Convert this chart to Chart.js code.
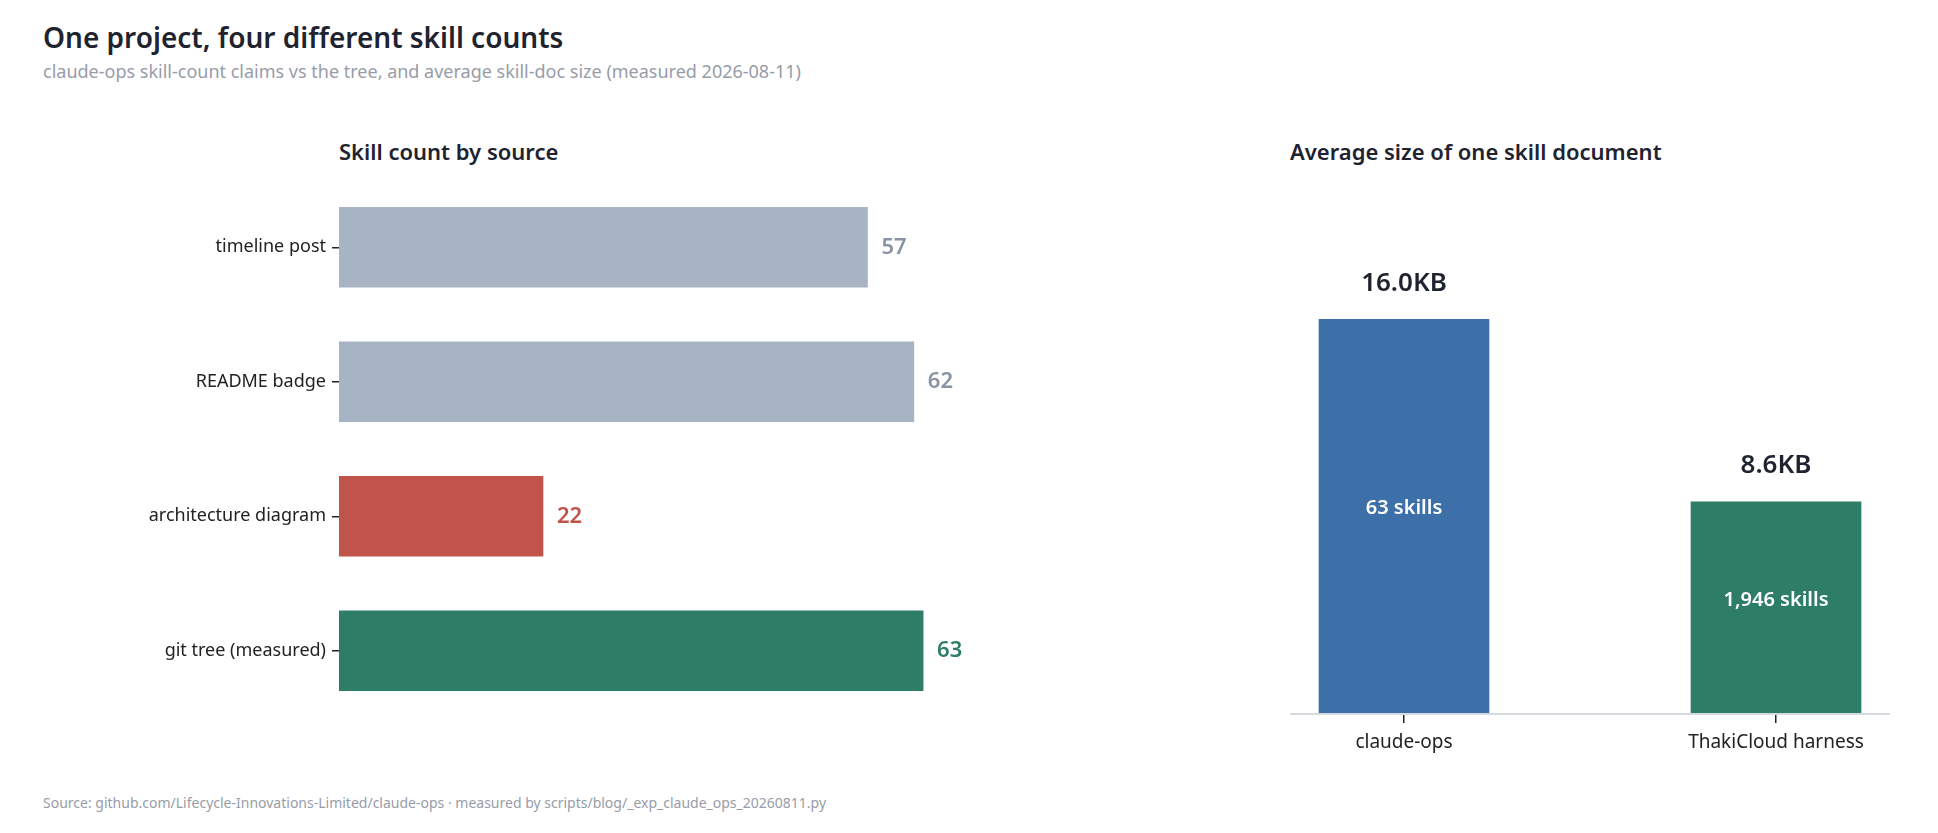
<!DOCTYPE html>
<html>
<head>
<meta charset="utf-8">
<script src="https://cdn.jsdelivr.net/npm/chart.js@4"></script>
<style>
  body { margin:0; width:1938px; height:833px; background:#fff; position:relative; overflow:hidden;
         font-family:"Noto Sans",sans-serif; }
  .t { position:absolute; white-space:nowrap; }
  canvas { position:absolute; }
</style>
</head>
<body>
<div class="t" style="left:43px;top:18px;font-size:28px;font-weight:600;color:#1f2330">One project, four different skill counts</div>
<div class="t" style="left:43px;top:59px;font-size:18px;color:#979ca8">claude-ops skill-count claims vs the tree, and average skill-doc size (measured 2026-08-11)</div>
<div class="t" style="left:339px;top:136px;font-size:22px;font-weight:600;color:#1f2330">Skill count by source</div>
<div class="t" style="left:1290px;top:136px;font-size:22px;font-weight:600;color:#1f2330">Average size of one skill document</div>
<div class="t" style="left:43px;top:793px;font-size:14px;color:#979ca8">Source: github.com/Lifecycle-Innovations-Limited/claude-ops · measured by scripts/blog/_exp_claude_ops_20260811.py</div>
<div style="position:absolute;left:0;top:0;width:1000px;height:833px"><canvas id="left"></canvas></div>
<div style="position:absolute;left:1200px;top:0;width:780px;height:833px"><canvas id="right"></canvas></div>
<script>
// ================= DATA =================
const sources = ["timeline post", "README badge", "architecture diagram", "git tree (measured)"];
const skillCounts = [57, 62, 22, 63];
const sourceColors = ["#a8b3c4", "#a8b3c4", "#c0544b", "#2e7d67"];
const labelColors = ["#8a93a3", "#8a93a3", "#c0544b", "#2e7d67"];

const projects = ["claude-ops", "ThakiCloud harness"];
const avgDocKB = [16.0, 8.6];
const projectSkills = ["63 skills", "1,946 skills"];
const projectColors = ["#3d6fa8", "#2e7d67"];

const FONT = '"Noto Sans",sans-serif';
Chart.defaults.font.family = FONT;
Chart.defaults.animation = false;

// ================= LEFT: HORIZONTAL BARS =================
const leftLabels = {
    id: "leftLabels",
    afterDatasetsDraw(chart) {
        const ctx = chart.ctx;
        chart.getDatasetMeta(0).data.forEach((bar, i) => {
            ctx.save();
            ctx.font = "600 22px " + FONT;
            ctx.fillStyle = labelColors[i];
            ctx.textBaseline = "middle";
            ctx.fillText(skillCounts[i], bar.x + 14, bar.y);
            ctx.restore();
        });
    }
};

new Chart(document.getElementById("left"), {
    type: "bar",
    data: {
        labels: sources,
        datasets: [{ data: skillCounts, backgroundColor: sourceColors, barThickness: 80 }]
    },
    options: {
        indexAxis: "y",
        responsive: true,
        maintainAspectRatio: false,
        layout: { padding: { top: 180, bottom: 115, right: 12 } },
        plugins: { legend: { display: false }, tooltip: { enabled: false } },
        scales: {
            x: { display: false, min: 0, max: 70 },
            y: {
                afterFit(s) { s.width = 339; },
                border: { display: false },
                grid: { offset: false, drawOnChartArea: false, drawTicks: true, tickLength: 7, color: "#222", lineWidth: 1.5 },
                ticks: { color: "#222", font: { size: 18 }, padding: 6 }
            }
        }
    },
    plugins: [leftLabels]
});

// ================= RIGHT: VERTICAL BARS =================
const rightLabels = {
    id: "rightLabels",
    afterDatasetsDraw(chart) {
        const ctx = chart.ctx;
        const xs = chart.scales.x;
        const step = xs.getPixelForValue(1) - xs.getPixelForValue(0);
        // baseline spanning the two bars with a little margin
        ctx.save();
        ctx.strokeStyle = "#d6d9de";
        ctx.lineWidth = 2;
        ctx.beginPath();
        ctx.moveTo(xs.getPixelForValue(0) - 0.306 * step, chart.chartArea.bottom);
        ctx.lineTo(xs.getPixelForValue(1) + 0.306 * step, chart.chartArea.bottom);
        ctx.stroke();
        ctx.restore();
        chart.getDatasetMeta(0).data.forEach((bar, i) => {
            ctx.save();
            ctx.textAlign = "center";
            ctx.textBaseline = "middle";
            ctx.font = "600 26px " + FONT;
            ctx.fillStyle = "#1f2330";
            ctx.fillText(avgDocKB[i].toFixed(1) + "KB", bar.x, bar.y - 36);
            ctx.font = "600 20px " + FONT;
            ctx.fillStyle = "#fff";
            ctx.fillText(projectSkills[i], bar.x, (bar.y + bar.base) / 2 - 8);
            ctx.restore();
        });
    }
};

new Chart(document.getElementById("right"), {
    type: "bar",
    data: {
        labels: projects,
        datasets: [{ data: avgDocKB, backgroundColor: projectColors, barThickness: 170 }]
    },
    options: {
        responsive: true,
        maintainAspectRatio: false,
        layout: { padding: { top: 270, bottom: 59, left: 18, right: 18 } },
        plugins: { legend: { display: false }, tooltip: { enabled: false } },
        scales: {
            x: {
                afterFit(s) { s.height = 60; },
                border: { display: false },
                grid: { offset: false, drawOnChartArea: false, drawTicks: true, tickLength: 9, color: "#222", lineWidth: 1.5 },
                ticks: { color: "#222", font: { size: 19 }, padding: 8 }
            },
            y: { display: false, min: 0, max: 18 }
        }
    },
    plugins: [rightLabels]
});
</script>
</body>
</html>
